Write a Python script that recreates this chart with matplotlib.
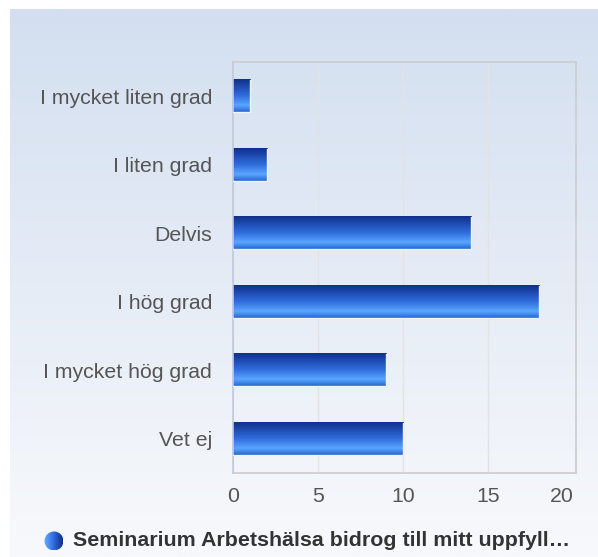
import matplotlib.pyplot as plt
import numpy as np
from matplotlib.colors import LinearSegmentedColormap
from matplotlib.patches import Circle

categories = ["I mycket liten grad", "I liten grad", "Delvis", "I hög grad",
              "I mycket hög grad", "Vet ej"]
values = [1, 2, 14, 18, 9, 10]
x_ticks = [0, 5, 10, 15, 20]
legend_label = "Seminarium Arbetshälsa bidrog till mitt uppfyll…"

plt.rcParams['font.family'] = ['Liberation Sans', 'DejaVu Sans']

W, H = 598, 557
fig = plt.figure(figsize=(W / 100, H / 100), dpi=100)
fig.patch.set_facecolor('white')

# background panel with vertical gradient
bg = fig.add_axes([10 / W, 0, 1 - 10 / W, 1 - 9 / H], zorder=0)
bg_cmap = LinearSegmentedColormap.from_list('bg', ['#f8f9fc', '#d3dff0'])
bg.imshow(np.linspace(0, 1, 256).reshape(-1, 1), aspect='auto', cmap=bg_cmap,
          origin='lower', extent=[0, 1, 0, 1])
bg.axis('off')

left, right, top, bottom = 233, 576, 62, 473
ax = fig.add_axes([left / W, 1 - bottom / H, (right - left) / W, (bottom - top) / H], zorder=1)
ax.patch.set_alpha(0)

# row 0 = bottom of bar on screen, last row = top
bar_cmap = LinearSegmentedColormap.from_list(
    'bar', [(0, '#2566d6'), (0.2, '#5aa6ff'), (0.5, '#2f6ddc'), (1.0, '#10308e')])
grad = np.linspace(0, 1, 64).reshape(-1, 1)

n = len(categories)
ypos = np.arange(n)
bh = 0.47
bars = ax.barh(ypos, values, height=bh, color='none', edgecolor='none', zorder=3)
for b in bars:
    x0, y0 = b.get_x(), b.get_y()
    x1, y1 = x0 + b.get_width(), y0 + b.get_height()
    ax.imshow(grad, aspect='auto', cmap=bar_cmap, origin='lower', interpolation='bilinear',
              extent=[x0, x1, y1, y0], zorder=2)
    # light rim on right and bottom edges
    ax.plot([x1, x1, x0], [y0, y1, y1], color='#eef3fc', linewidth=1.0, zorder=3)

ax.set_xlim(0, 20.15)
ax.set_ylim(n - 0.5, -0.5)
ax.set_xticks(x_ticks)
ax.set_xticklabels([str(t) for t in x_ticks])
ax.set_yticks(ypos)
ax.set_yticklabels(categories)
ax.tick_params(axis='both', length=0, labelsize=15.3, labelcolor='#555555')
ax.tick_params(axis='y', pad=15)
ax.tick_params(axis='x', pad=10)
ax.get_xticklabels()[-1].set_horizontalalignment('right')
ax.grid(axis='x', color='#e3e3e3', linewidth=1, zorder=0)
ax.get_xgridlines()[-1].set_visible(False)
ax.set_axisbelow(True)
for side in ['top', 'right', 'bottom']:
    ax.spines[side].set_color('#cccccc')
    ax.spines[side].set_linewidth(1.2)
ax.spines['left'].set_color('#c0c8dc')
ax.spines['left'].set_linewidth(1.2)

# legend: gradient circle marker + bold label
cx, cy, r = 54, 541, 9.5
lax = fig.add_axes([(cx - r - 1) / W, 1 - (cy + r + 1) / H, (2 * r + 2) / W, (2 * r + 2) / H], zorder=2)
lax.set_xlim(-r - 1, r + 1)
lax.set_ylim(-r - 1, r + 1)
lax.axis('off')
leg_cmap = LinearSegmentedColormap.from_list('leg', ['#6aaefc', '#2f6be0', '#0f2f8c'])
im = lax.imshow(np.linspace(0, 1, 64).reshape(1, -1), aspect='auto', cmap=leg_cmap,
                extent=[-r, r, -r, r], interpolation='bilinear')
im.set_clip_path(Circle((0, 0), r, transform=lax.transData))
fig.text(73 / W, 1 - cy / H, legend_label, ha='left', va='center', fontsize=15.4,
         fontweight='bold', color='#333333')

fig.savefig('out.png', dpi=100)
